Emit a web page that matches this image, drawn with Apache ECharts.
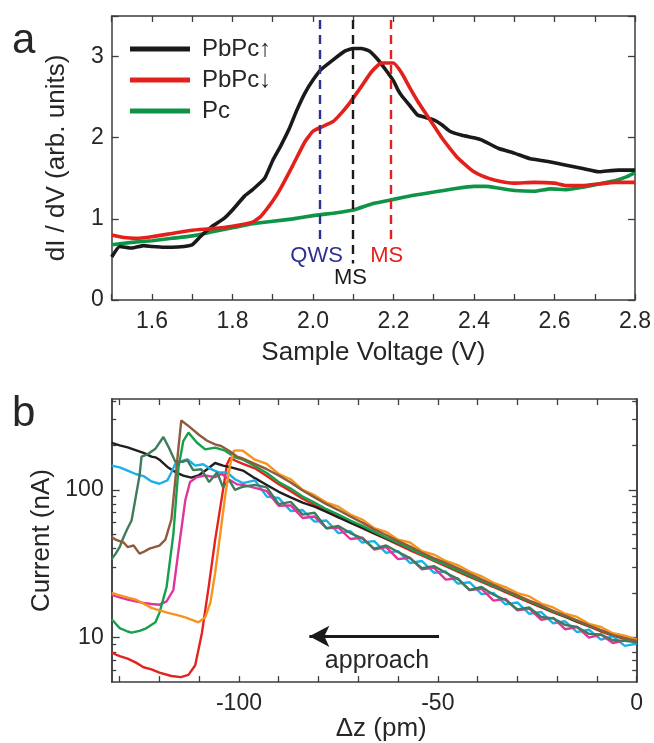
<!DOCTYPE html>
<html><head><meta charset="utf-8">
<script src="https://cdn.jsdelivr.net/npm/echarts@6/dist/echarts.min.js"></script>
<style>html,body{margin:0;padding:0;background:#fff}#c{width:654px;height:743px}</style>
</head><body><div id="c"></div>
<script>
// ---------- Panel a: dI/dV spectra (Sample Voltage V, dI/dV) ----------
const pbpcUp = [[1.5,0.53],[1.52,0.66],[1.55,0.64],[1.58,0.67],[1.6,0.66],[1.63,0.65],[1.65,0.65],[1.68,0.66],[1.7,0.68],[1.72,0.78],[1.75,0.91],[1.78,1.01],[1.8,1.11],[1.83,1.28],[1.85,1.36],[1.88,1.5],[1.9,1.72],[1.92,1.9],[1.94,2.1],[1.96,2.34],[1.98,2.55],[2.0,2.71],[2.02,2.84],[2.05,2.96],[2.08,3.07],[2.1,3.1],[2.12,3.1],[2.14,3.07],[2.16,2.97],[2.18,2.84],[2.2,2.7],[2.21,2.6],[2.22,2.52],[2.24,2.4],[2.26,2.28],[2.28,2.25],[2.3,2.22],[2.32,2.16],[2.34,2.08],[2.37,2.03],[2.4,2.0],[2.42,1.97],[2.46,1.87],[2.5,1.81],[2.54,1.74],[2.58,1.71],[2.62,1.67],[2.67,1.62],[2.71,1.58],[2.73,1.59],[2.76,1.6],[2.8,1.6]];
const pbpcDown = [[1.5,0.8],[1.53,0.77],[1.56,0.76],[1.6,0.78],[1.65,0.82],[1.7,0.86],[1.75,0.88],[1.8,0.91],[1.85,0.96],[1.87,1.03],[1.9,1.22],[1.92,1.38],[1.95,1.66],[1.98,1.95],[2.0,2.08],[2.02,2.13],[2.05,2.2],[2.07,2.3],[2.09,2.42],[2.12,2.63],[2.145,2.81],[2.17,2.92],[2.2,2.92],[2.22,2.8],[2.24,2.62],[2.26,2.45],[2.28,2.3],[2.3,2.15],[2.32,2.0],[2.34,1.87],[2.36,1.75],[2.38,1.66],[2.4,1.58],[2.42,1.53],[2.45,1.48],[2.5,1.44],[2.55,1.45],[2.6,1.44],[2.63,1.41],[2.67,1.41],[2.71,1.43],[2.75,1.45],[2.8,1.45]];
const pc = [[1.5,0.68],[1.55,0.71],[1.6,0.73],[1.65,0.76],[1.7,0.79],[1.75,0.84],[1.8,0.89],[1.85,0.94],[1.9,0.97],[1.95,1.0],[2.0,1.04],[2.05,1.07],[2.1,1.11],[2.15,1.19],[2.2,1.24],[2.25,1.29],[2.3,1.33],[2.35,1.37],[2.4,1.4],[2.43,1.4],[2.46,1.38],[2.5,1.35],[2.55,1.34],[2.59,1.37],[2.63,1.36],[2.67,1.39],[2.71,1.43],[2.75,1.47],[2.78,1.52],[2.8,1.57]];
// marker positions (V) and annotation labels
const markerQWS = 2.016, markerMSup = 2.099, markerMSdown = 2.193;
const stateLabels = [
  {name:'QWS', value:[2.009,0.545], color:'#2e3192'},
  {name:'MS',  value:[2.093,0.27],  color:'#1a1a1a'},
  {name:'MS',  value:[2.183,0.545], color:'#e3211c'}
];

// ---------- Panel b: current vs dz (pm, nA) ----------
const zTrend = [-99,-96,-93,-90,-87,-84,-81,-78,-75,-72,-69,-66,-63,-60,-57,-54,-51,-48,-45,-42,-39,-36,-33,-30,-27,-24,-21,-18,-15,-12,-9,-6,-3,0];
const blackLeft = [[-132,208],[-130,200],[-128,194],[-126,186],[-124,178],[-122,168],[-121,166],[-120,160],[-118,143],[-116,132],[-114,125],[-112,121],[-110,126],[-108,138],[-106,152],[-104,146],[-102,142]];
const blackTrend = [135,120,108,97,89,82,77,71,65,60,55.5,51,47,43.5,40,37,34,31,28.6,26.3,24.3,22.5,20.7,19.1,17.6,16.2,15,13.9,12.9,12,11.2,10.5,9.9,9.4];
const cyanLeft = [[-132,146],[-130,142],[-128,135],[-126,128],[-124,124],[-122,114],[-120,110],[-118,116],[-117,131],[-116,150],[-114,158],[-113,161],[-111,146],[-109,149],[-107,138],[-105,131],[-103,131],[-101,118]];
const cyanTrend = [111,116,90,88,72,73,61,62,51,52.5,44,45,37.5,38.5,32,33,27.5,28,23.2,23.7,19.7,20.1,16.8,17.3,14.5,14.9,12.5,12.9,10.9,11.3,9.7,10.2,8.8,9.1];
const magentaLeft = [[-132,19.5],[-130,18.7],[-128,18.1],[-126,17.6],[-124,17.2],[-122,16.9],[-120,16.7],[-118.2,17.6],[-116.5,21],[-115.2,39],[-113.5,85],[-112.3,113],[-110.6,122],[-108.5,125],[-106,122],[-104.3,128],[-102.2,116],[-100.5,109]];
const magentaTrend = [108,103,98,78,78.5,64.5,66,55,55.5,46.5,47.5,39.5,41,34,34.7,29,29.8,24.7,25.2,21,21.4,17.8,18.3,15.3,15.7,13.2,13.6,11.4,11.8,10,10.5,9.2,9.6,9.7];
const dkgreenLeft = [[-132,34],[-131,37],[-130,41],[-129,48],[-128,55],[-127,62],[-126,88],[-125,125],[-124.5,168],[-123,174],[-121,190],[-119,228],[-117.5,190],[-116,155],[-114,155],[-113,159],[-111.5,136],[-109.5,138],[-107.5,113],[-105.5,131],[-104,104],[-102.5,117],[-101,100]];
const dkgreenTrend = [105,108,104,80,83,68,70,55,57,51,47,40,42,38,34.5,29.5,30.5,27.5,25,21,22,19.5,18,15.5,16,13.8,13.5,12.2,11.8,10.6,10.5,9.6,9.5,9.3];
const brownLeft = [[-132,48],[-131,46],[-129,44],[-128,41],[-126.5,42],[-125,37],[-124,38],[-122.5,40],[-120,42],[-118.5,46],[-117,63],[-116,117],[-115.2,195],[-114.5,295],[-112.5,268],[-110,235],[-108,215],[-106,203],[-104.5,198],[-102.5,184],[-100.5,168]];
const brownTrend = [163,150,138,125,112,99,89,80,73,66,60,54,49.5,45,41.5,37.5,34.5,32,29.5,27,24.8,22.8,21,19.3,17.8,16.5,15.2,14.1,13.1,12.1,11.2,10.4,9.9,9.5];
const greenLeft = [[-132,13.3],[-130,11.6],[-128,11],[-127,10.8],[-125,11.1],[-123.5,11.5],[-121,12.7],[-120,14.7],[-118.2,22],[-116.5,50],[-115.2,142],[-114,214],[-112.7,244],[-110.6,209],[-108.5,188],[-106,193],[-103.5,184],[-101,166]];
const greenTrend = [160,145,130,113,102,90,82,74,68,62,57,52,47.5,43.5,40,36.5,33.5,31,28.5,26.3,24.2,22.3,20.7,19,17.6,16.3,15,14,13,12,11.2,10.4,9.9,9.5];
const orangeLeft = [[-132,20],[-129,19],[-126,18.1],[-124,17],[-122,15.9],[-120,15.3],[-117.8,14.7],[-115.5,14.2],[-113.5,13.7],[-111.5,13.1],[-110.2,12.7],[-108.5,13.7],[-107.2,17.2],[-106,27.3],[-104.7,50.6],[-103.4,94],[-102.2,149],[-101.3,184],[-100,185]];
const orangeTrend = [184,160,150,128,118,100,92,82,77,68,63,55,52,46,44,38.5,36.5,33,31,28,26,23.5,22,20,19,17,16,14.5,13.8,12.4,11.8,10.7,10.3,9.7];
const redLeft = [[-132,7.9],[-130,7.5],[-128,7.2],[-126,6.8],[-124,6.3],[-122,6.1],[-120,5.8],[-117,5.5],[-114.6,5.4],[-112.7,5.6],[-111,6.5],[-109.3,10.8],[-107.6,22.2],[-106,45.7],[-104.3,89],[-103,149],[-102.2,165],[-101,158]];
const redTrend = [150,140,124,109,98,87,79,72,66,60,55,50.5,46.5,42.5,39,36,33,30.5,28,25.8,23.8,22,20.3,18.7,17.3,16,14.8,13.8,12.8,11.9,11,10.3,9.8,9.9];
const bXTicks = [-130,-120,-110,-100,-90,-80,-70,-60,-50,-40,-30,-20,-10,0];
const bXLabels = [-100,-50,0];
const bYMajor = [10,100];
const bYMinor = [6,7,8,9,20,30,40,50,60,70,80,90,200,300,400];
const approachArrow = {from:[-49.7,10.2], to:[-82.3,10.2]};
const approachLabel = [-65.3,6.9];

// ---------- build ----------
const FONT = '"Liberation Sans", Arial, Helvetica, sans-serif';
const TXT = '#262626';
const FRAME = '#3d3d3d';
const CLEAR = 'rgba(0,0,0,0)';
const join = (left, trend) => left.concat(zTrend.map((z, i) => [z, trend[i]]));

const frameLine = {show:true, onZero:false, lineStyle:{color:FRAME, width:1.5}};
const tick = (len, extra) => Object.assign({show:true, inside:true, length:len, lineStyle:{color:FRAME, width:1.3}}, extra || {});
const noSplit = {show:false};

const xA = [
  {gridIndex:0, type:'value', min:1.5, max:2.8, interval:0.1, position:'bottom',
   axisLine:frameLine, axisTick:tick(6), splitLine:noSplit,
   axisLabel:{fontSize:23, color:TXT, margin:10, fontFamily:FONT,
     formatter:v => { const k = Math.round(v*10); return (k % 2 === 0) ? (k/10).toFixed(1) : ''; }},
   name:'Sample Voltage (V)', nameLocation:'middle', nameGap:40,
   nameTextStyle:{fontSize:26, color:TXT, fontFamily:FONT}},
  {gridIndex:0, type:'value', min:1.5, max:2.8, interval:0.1, position:'top',
   axisLine:frameLine, axisTick:tick(6), axisLabel:{show:false}, splitLine:noSplit},
  {gridIndex:1, type:'value', min:-132, max:0, position:'bottom',
   axisLine:frameLine, axisTick:tick(6, {customValues:bXTicks}), splitLine:noSplit,
   axisLabel:{customValues:bXLabels, fontSize:23, color:TXT, margin:10, fontFamily:FONT},
   name:'\u0394z (pm)', nameLocation:'middle', nameGap:32,
   nameTextStyle:{fontSize:26, color:TXT, fontFamily:FONT, padding:[0,0,0,14]}},
  {gridIndex:1, type:'value', min:-132, max:0, position:'top',
   axisLine:frameLine, axisTick:tick(6, {customValues:bXTicks}), axisLabel:{show:false}, splitLine:noSplit}
];
const yA = [
  {gridIndex:0, type:'value', min:0, max:3.5, interval:1, position:'left',
   axisLine:frameLine, axisTick:tick(7), splitLine:noSplit,
   axisLabel:{fontSize:23, color:TXT, margin:8, fontFamily:FONT, formatter:v => (v > 3.2 ? '' : String(v))},
   name:'dI / dV (arb. units)', nameLocation:'middle', nameGap:42,
   nameTextStyle:{fontSize:26, color:TXT, fontFamily:FONT}},
  {gridIndex:0, type:'value', min:0, max:3.5, interval:1, position:'right',
   axisLine:frameLine, axisTick:tick(7), axisLabel:{show:false}, splitLine:noSplit},
  {gridIndex:1, type:'log', logBase:10, min:5, max:412, position:'left',
   axisLine:frameLine, axisTick:tick(8, {customValues:bYMajor}), splitLine:noSplit,
   axisLabel:{customValues:bYMajor, fontSize:23, color:TXT, margin:8, fontFamily:FONT, formatter:v => String(Math.round(v))},
   name:'Current (nA)', nameLocation:'middle', nameGap:57,
   nameTextStyle:{fontSize:26, color:TXT, fontFamily:FONT}},
  {gridIndex:1, type:'log', logBase:10, min:5, max:412, position:'left',
   axisLine:frameLine, axisTick:tick(4.5, {customValues:bYMinor}), axisLabel:{show:false}, splitLine:noSplit},
  {gridIndex:1, type:'log', logBase:10, min:5, max:412, position:'right',
   axisLine:frameLine, axisTick:tick(8, {customValues:bYMajor}), axisLabel:{show:false}, splitLine:noSplit},
  {gridIndex:1, type:'log', logBase:10, min:5, max:412, position:'right',
   axisLine:frameLine, axisTick:tick(4.5, {customValues:bYMinor}), axisLabel:{show:false}, splitLine:noSplit}
];

const lineA = (name, data, color, z) => ({
  name, type:'line', xAxisIndex:0, yAxisIndex:0, data, showSymbol:false, symbol:'none',
  smooth:0.15, color, lineStyle:{color, width:3.6}, z
});
const lineB = (name, data, color) => ({
  name, type:'line', xAxisIndex:2, yAxisIndex:2, data, showSymbol:false, symbol:'none',
  color, lineStyle:{color, width:2.4}, silent:true
});
const dash = {type:[9,6], width:2.4};
const textLabel = (text, color, size) => ({show:true, position:'inside', formatter:text, color, opacity:1,
  fontSize:size, fontFamily:FONT, textBorderWidth:0});

const series = [
  lineA('Pc', pc, '#0e9447', 2),
  Object.assign(lineA('PbPc\u2191', pbpcUp, '#1a1a1a', 3), {
    markLine:{silent:true, symbol:['none','none'], label:{show:false}, animation:false,
      data:[
        [{coord:[markerQWS,3.45], lineStyle:Object.assign({color:'#2e3192'}, dash)},{coord:[markerQWS,0.74]}],
        [{coord:[markerMSup,3.45], lineStyle:Object.assign({color:'#1a1a1a'}, dash)},{coord:[markerMSup,0.45]}],
        [{coord:[markerMSdown,3.45], lineStyle:Object.assign({color:'#e3211c'}, dash)},{coord:[markerMSdown,0.74]}]
      ]}
  }),
  lineA('PbPc\u2193', pbpcDown, '#e3211c', 4),
  {type:'scatter', xAxisIndex:0, yAxisIndex:0, symbol:'circle', symbolSize:2, silent:true, z:10,
   itemStyle:{color:CLEAR, opacity:1},
   data: stateLabels.map(s => ({value:s.value, label:textLabel(s.name, s.color, 22)}))},
  lineB('red', join(redLeft, redTrend), '#e42320'),
  lineB('black', join(blackLeft, blackTrend), '#1f1f1f'),
  lineB('cyan', join(cyanLeft, cyanTrend), '#1cb1e6'),
  lineB('magenta', join(magentaLeft, magentaTrend), '#e0359c'),
  lineB('green', join(greenLeft, greenTrend), '#14a04c'),
  lineB('dkgreen', join(dkgreenLeft, dkgreenTrend), '#3f7c5c'),
  lineB('orange', join(orangeLeft, orangeTrend), '#f7941d'),
  lineB('brown', join(brownLeft, brownTrend), '#8d5b3e'),
  {type:'line', xAxisIndex:2, yAxisIndex:2, data:[], silent:true,
   markLine:{silent:true, symbol:['none','arrow'], symbolSize:[16,20], label:{show:false}, animation:false,
     lineStyle:{color:'#1a1a1a', width:3.2, type:'solid'},
     data:[[{coord:approachArrow.from},{coord:approachArrow.to}]]}},
  {type:'scatter', xAxisIndex:2, yAxisIndex:2, symbol:'circle', symbolSize:2, silent:true, z:10,
   itemStyle:{color:CLEAR, opacity:1},
   data:[{value:approachLabel, label:textLabel('approach', TXT, 25)}]}
];

const option = {
  animation:false,
  backgroundColor:'#ffffff',
  textStyle:{fontFamily:FONT},
  grid:[{left:111.7, top:16, width:525, height:284},{left:111.7, top:399, width:525, height:284}],
  legend:{data:['PbPc\u2191','PbPc\u2193','Pc'], orient:'vertical', left:125, top:32,
    icon:'rect', itemWidth:60, itemHeight:5, itemGap:7, selectedMode:false,
    textStyle:{fontSize:24, color:TXT, fontFamily:FONT, lineHeight:24, padding:[0,0,0,7]}},
  xAxis:xA, yAxis:yA, series,
  graphic:[
    {type:'text', left:12, top:20, style:{text:'a', fontSize:42, fill:TXT, fontFamily:FONT}},
    {type:'text', left:12, top:393, style:{text:'b', fontSize:42, fill:TXT, fontFamily:FONT}}
  ]
};
const chart = echarts.init(document.getElementById('c'), null, {renderer:'canvas'});
chart.setOption(option);
</script></body></html>
